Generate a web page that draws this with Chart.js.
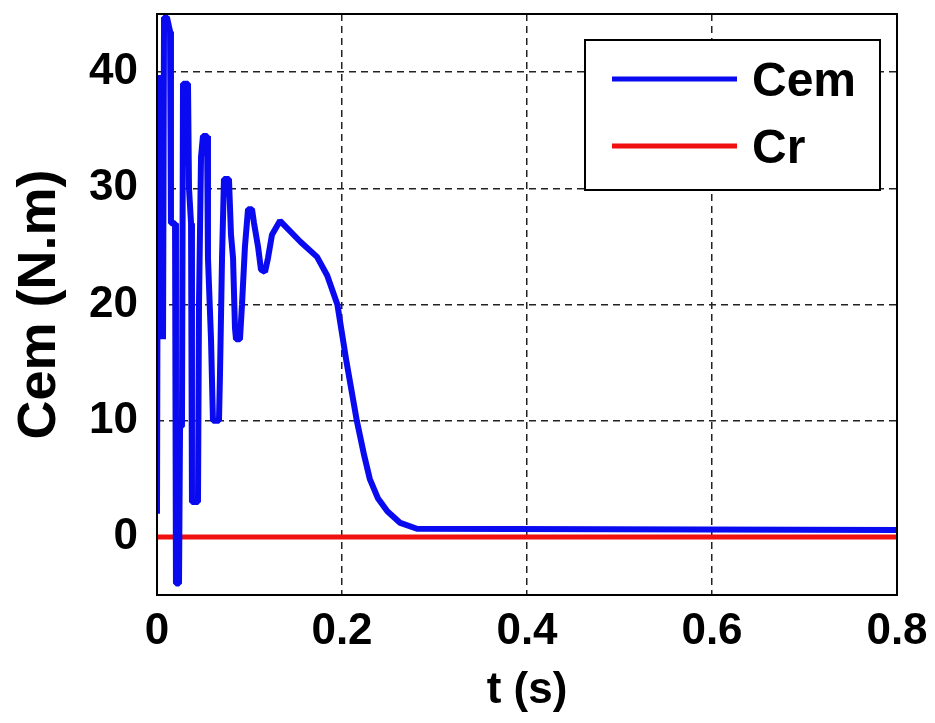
<!DOCTYPE html>
<html>
<head>
<meta charset="utf-8">
<script src="https://cdn.jsdelivr.net/npm/chart.js@4"></script>
<style>
  html, body { margin: 0; padding: 0; background: #fff; }
  #wrap { width: 935px; height: 723px; }
</style>
</head>
<body>
<div id="wrap"><canvas id="chart1" width="935" height="723"></canvas></div>
<script>
// time (s) and electromagnetic torque (N.m)
const timeCem = [0, 0.0011, 0.0054, 0.0065, 0.0076, 0.0108, 0.0141, 0.0151, 0.0195, 0.0205, 0.0238, 0.0249, 0.0270,
    0.0281, 0.0335, 0.0346, 0.0368, 0.0378, 0.0443, 0.0454, 0.0476, 0.0497, 0.0541, 0.0551, 0.0584, 0.0605,
    0.0670, 0.0681, 0.0703, 0.0724, 0.0778, 0.0800, 0.0822, 0.0843, 0.0854, 0.0897, 0.0919, 0.0951, 0.0984,
    0.1027, 0.1049, 0.1092, 0.1124, 0.1168, 0.1200, 0.1243, 0.1330, 0.155, 0.173, 0.184, 0.195, 0.205, 0.216,
    0.224, 0.230, 0.239, 0.249, 0.263, 0.281, 0.8];
const valueCem = [2, 39.5, 39.5, 17, 44.7, 44.7, 43.5, 27, 27, -4, -4, 9.5, 9.5,
    39, 39, 30, 27, 3, 3, 20, 32.7, 34.5, 34.5, 24, 17, 10,
    10, 14, 24, 30.8, 30.8, 26, 24, 18, 17, 17, 20, 25, 28.2,
    28.2, 27, 25, 23, 22.8, 24, 26, 27.2, 25.4, 24.1, 22.5, 20, 15, 10,
    7, 5, 3.3, 2.2, 1.2, 0.7, 0.6];

// load torque
const timeCr = [0, 0.8];
const valueCr = [0, 0];

const xTicks = [0, 0.2, 0.4, 0.6, 0.8];
const yTicks = [0, 10, 20, 30, 40];

const fontFamily = "'Liberation Sans', Arial, sans-serif";

const toPoints = (xs, ys) => xs.map((x, i) => ({ x: x, y: ys[i] }));

const data = {
    datasets: [
        {
            label: 'Cem',
            data: toPoints(timeCem, valueCem),
            borderColor: '#0a0af0',
            borderWidth: 6,
            borderJoinStyle: 'bevel',
            pointRadius: 0,
            tension: 0
        },
        {
            label: 'Cr',
            data: toPoints(timeCr, valueCr),
            borderColor: '#f01010',
            borderWidth: 5,
            pointRadius: 0,
            tension: 0
        }
    ]
};

// box round the plot plus the MATLAB style legend
const framePlugin = {
    id: 'frame',
    afterDraw(chart) {
        const ctx = chart.ctx;
        const a = chart.chartArea;
        ctx.save();
        ctx.strokeStyle = '#000';
        ctx.lineWidth = 2;
        ctx.strokeRect(a.left, a.top, a.right - a.left, a.bottom - a.top);

        // legend
        const bx = 585, by = 40, bw = 295, bh = 150;
        ctx.fillStyle = '#fff';
        ctx.fillRect(bx, by, bw, bh);
        ctx.strokeRect(bx, by, bw, bh);
        ctx.font = 'bold 48px ' + fontFamily;
        ctx.textBaseline = 'middle';
        chart.data.datasets.forEach((ds, i) => {
            const y = 79 + i * 67;
            ctx.strokeStyle = ds.borderColor;
            ctx.lineWidth = 5;
            ctx.beginPath();
            ctx.moveTo(612, y);
            ctx.lineTo(737, y);
            ctx.stroke();
            ctx.fillStyle = '#000';
            ctx.fillText(ds.label, 752, y + 4);
        });
        ctx.restore();
    }
};

const options = {
    responsive: false,
    animation: false,
    layout: {
        padding: { top: 14, right: 38, left: 0, bottom: 0 }
    },
    plugins: {
        legend: { display: false },
        tooltip: { enabled: false }
    },
    scales: {
        x: {
            type: 'linear',
            min: 0,
            max: 0.8,
            afterBuildTicks: scale => { scale.ticks = xTicks.map(v => ({ value: v })); },
            afterFit: scale => {
                scale.height = 128;
                scale.paddingLeft = 0;
                scale.paddingRight = 0;
            },
            ticks: {
                color: '#000',
                padding: 10,
                font: { family: fontFamily, size: 44, weight: 'bold' },
                callback: v => String(v)
            },
            grid: { color: '#222', lineWidth: 1.5, drawTicks: false },
            border: { display: false, dash: [7, 5] },
            title: {
                display: true,
                text: 't (s)',
                color: '#000',
                padding: { top: 0, bottom: 6 },
                font: { family: fontFamily, size: 44, weight: 'bold' }
            }
        },
        y: {
            min: -5,
            max: 45,
            afterBuildTicks: scale => { scale.ticks = yTicks.map(v => ({ value: v })); },
            afterFit: scale => {
                scale.width = 157;
                scale.paddingTop = 0;
                scale.paddingBottom = 0;
            },
            ticks: {
                color: '#000',
                padding: 19,
                font: { family: fontFamily, size: 44, weight: 'bold' }
            },
            grid: { color: '#222', lineWidth: 1.5, drawTicks: false },
            border: { display: false, dash: [7, 5] },
            title: {
                display: true,
                text: 'Cem (N.m)',
                color: '#000',
                padding: { top: 8, bottom: 0 },
                font: { family: fontFamily, size: 54, weight: 'bold' }
            }
        }
    }
};

new Chart('chart1', { type: 'line', data, options, plugins: [framePlugin] });
</script>
</body>
</html>
